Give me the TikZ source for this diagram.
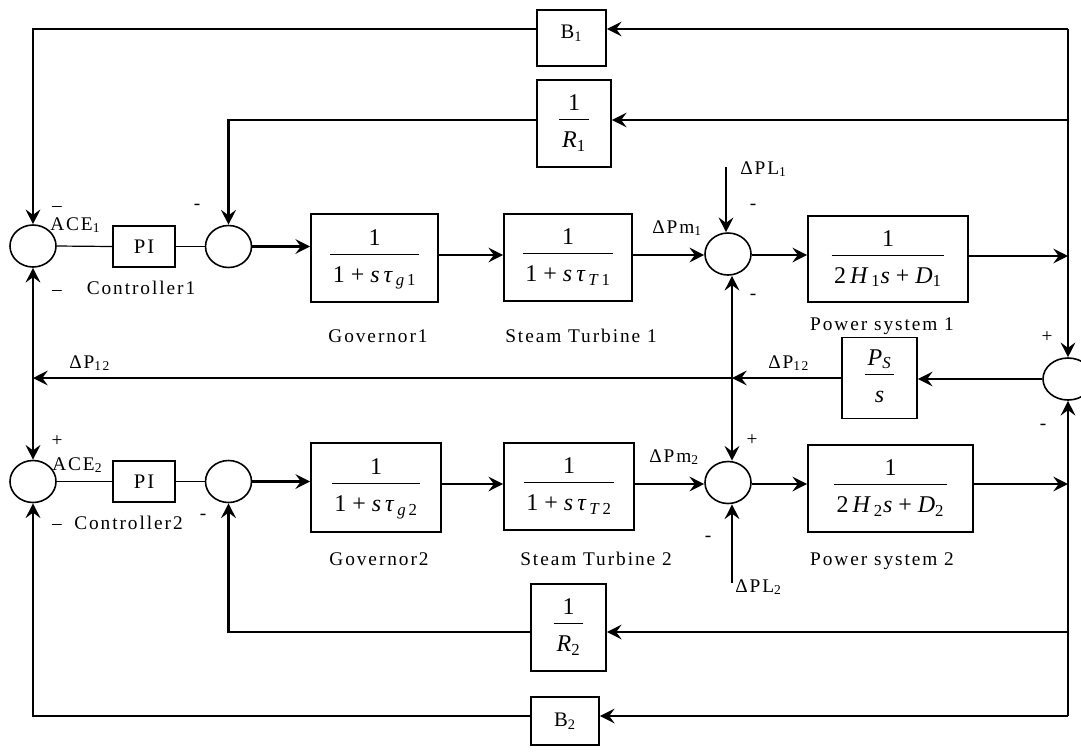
\documentclass[tikz,border=0pt]{standalone}
\usepackage{fontspec}
\setmainfont{Liberation Serif}
\newfontfamily\lblfont{Liberation Serif}[LetterSpace=10]
\usetikzlibrary{arrows.meta,shapes.geometric}
\newcommand\frc[2]{{\fontsize{18}{21}\selectfont\setlength\arrayrulewidth{0.7pt}%
\begin{tabular}{@{\hspace{2pt}}c@{\hspace{2pt}}}\rule[-6.5pt]{0pt}{0pt}#1\\\hline\rule{0pt}{20.5pt}#2\end{tabular}}}
\tikzset{
  >={Stealth[length=11pt,width=11pt,inset=4pt]},
  sig/.style={line width=1.8pt},
  weak/.style={line width=0.9pt},
  blk/.style={draw, line width=1.3pt, rectangle, inner sep=0pt, align=center},
  sumnode/.style={draw, ellipse, line width=1.2pt, inner sep=0pt, minimum width=34.5pt, minimum height=31.5pt},
  lbl/.style={inner sep=0pt, font=\lblfont\fontsize{14.5}{17}\selectfont},
  boxlbl/.style={font=\lblfont\fontsize{15.5}{18}\selectfont},
}
\begin{document}
\begin{tikzpicture}[x=0.75pt,y=-0.75pt]
\useasboundingbox (0,0) rectangle (1081,751);
% ---- summing junctions
\node[sumnode] (S1) at (33,246) {};
\node[sumnode] (S2) at (228.5,246.5) {};
\node[sumnode] (S3) at (728,254) {};
\node[sumnode] (S4) at (728,482.5) {};
\node[sumnode, minimum width=37.5pt] (S5) at (1068,379) {};
\node[sumnode] (S6) at (33,481.5) {};
\node[sumnode] (S7) at (228.5,481.5) {};
% ---- blocks, area 1
\node[blk, boxlbl, minimum width=46.5pt, minimum height=30.75pt] (PI1) at (144,246.5) {PI};
\node[blk, minimum width=95.25pt, minimum height=66pt] (G1) at (374.5,258) {\frc{1}{1 + \textit{s}\,\textit{τ}\textsubscript{\,\textit{g}\,1}}};
\node[blk, minimum width=96pt, minimum height=65.25pt] (T1) at (568,257.5) {\frc{1}{1 + \textit{s}\,\textit{τ}\textsubscript{\,\textit{T}\,1}}};
\node[blk, minimum width=120pt, minimum height=64.5pt] (PS1) at (888,259) {\frc{1}{2\,\textit{H}\textsubscript{\,1}\textit{s} + \textit{D}\textsubscript{1}}};
\node[blk, boxlbl, minimum width=51.75pt, minimum height=42pt, text depth=9.5pt] (B1) at (571.5,38) {B\textsubscript{1}};
\node[blk, minimum width=55.5pt, minimum height=65.25pt] (R1) at (574,123.5) {\frc{1}{\textit{R}\textsubscript{1}}};
\node[blk, minimum width=56.25pt, minimum height=60.75pt] (PSs) at (879.5,378) {\frc{\textit{P}\textsubscript{\textit{S}}}{\textit{s}}};
% ---- blocks, area 2
\node[blk, boxlbl, minimum width=46.5pt, minimum height=30.75pt] (PI2) at (144,481.5) {PI};
\node[blk, minimum width=97.5pt, minimum height=66.75pt] (G2) at (376,487.5) {\frc{1}{1 + \textit{s}\,\textit{τ}\textsubscript{\,\textit{g}\,2}}};
\node[blk, minimum width=97.5pt, minimum height=65.25pt] (T2) at (569,486.5) {\frc{1}{1 + \textit{s}\,\textit{τ}\textsubscript{\,\textit{T}\,2}}};
\node[blk, minimum width=123.75pt, minimum height=65.25pt] (PS2) at (890.5,488.5) {\frc{1}{2\,\textit{H}\textsubscript{\,2}\textit{s} + \textit{D}\textsubscript{2}}};
\node[blk, minimum width=56.25pt, minimum height=65.25pt] (R2) at (568.5,627.5) {\frc{1}{\textit{R}\textsubscript{2}}};
\node[blk, boxlbl, minimum width=51pt, minimum height=36pt] (B2) at (565,721) {B\textsubscript{2}};
% ---- helper points
\coordinate (tl) at (33,29);
\coordinate (tr) at (1068,29);
\coordinate (r1r) at (1068,120);
\coordinate (r1l) at (228.5,120);
\coordinate (pf1) at (1068,256);
\coordinate (pf2) at (1068,484);
\coordinate (r2r) at (1068,632);
\coordinate (r2l) at (228.5,632);
\coordinate (br) at (1068,716);
\coordinate (bl) at (33,716);
\coordinate (J) at (732,378);
\coordinate (lj) at (33,378);
\coordinate (pl1) at (726,167);
\coordinate (pl2) at (732,583);
\coordinate (ya) at (0,255);
\coordinate (yb) at (0,484);
% ---- connectors, top
\draw[sig,->] (tr) -- (tr -| B1.east);
\draw[sig,->] (tr -| B1.west) -- (tl) -- (tl |- S1.north);
\draw[sig,->] (tr) -- (tr |- S5.north);
\draw[sig,->] (r1r) -- (r1r -| R1.east);
\draw[sig,->] (r1r -| R1.west) -- (r1l) -- (r1l |- S2.north);
\draw[weak] (S1.east) -- (PI1.west);
\draw[weak] (PI1.east) -- (S2.west);
\draw[sig,->] (S2.east) -- (S2.east -| G1.west);
\draw[sig,->] (G1.east |- ya) -- (T1.west |- ya);
\draw[sig,->] (T1.east |- ya) -- (S3.west |- ya);
\draw[sig,->] (pl1) -- (pl1 |- S3.north);
\draw[sig,->] (S3.east |- ya) -- (PS1.west |- ya);
\draw[sig,->] (PS1.east |- pf1) -- (pf1);
% ---- tie line
\draw[sig,->] (S5.west) -- (S5.west -| PSs.east);
\draw[sig,->] (PSs.west |- J) -- (J);
\draw[sig,->] (J) -- (lj);
\draw[sig,->] (J) -- (J |- S3.south);
\draw[sig,->] (J) -- (J |- S4.north);
\draw[sig,->] (lj) -- (lj |- S1.south);
\draw[sig,->] (lj) -- (lj |- S6.north);
% ---- connectors, bottom
\draw[sig,->] (br) -- (br |- S5.south);
\draw[sig,->] (r2r) -- (r2r -| R2.east);
\draw[sig,->] (r2r -| R2.west) -- (r2l) -- (r2l |- S7.south);
\draw[sig,->] (br) -- (br -| B2.east);
\draw[sig,->] (br -| B2.west) -- (bl) -- (bl |- S6.south);
\draw[weak] (S6.east) -- (PI2.west);
\draw[weak] (PI2.east) -- (S7.west);
\draw[sig,->] (S7.east) -- (S7.east -| G2.west);
\draw[sig,->] (G2.east |- yb) -- (T2.west |- yb);
\draw[sig,->] (T2.east |- yb) -- (S4.west |- yb);
\draw[sig,->] (pl2) -- (pl2 |- S4.south);
\draw[sig,->] (S4.east |- yb) -- (PS2.west |- yb);
\draw[sig,->] (PS2.east |- pf2) -- (pf2);
% ---- labels, area 1
\node[lbl] (mA1) at (57,209) {–};
\node[lbl, anchor=base west] (ace1) at (50,230) {ACE\textsubscript{1}};
\node[lbl] (mB1) at (57,293) {–};
\node[lbl, anchor=base] (ctl1) at (141,294) {Controller1};
\node[lbl] (m2) at (197,207) {-};
\node[lbl, anchor=base] (gov1) at (378,342) {Governor1};
\node[lbl, anchor=base] (st1) at (581,342) {Steam Turbine 1};
\node[lbl, anchor=base west] (pm1) at (652,233) {ΔPm\textsubscript{1}};
\node[lbl, anchor=base west] (pl1t) at (740,174) {ΔPL\textsubscript{1}};
\node[lbl] (m3a) at (753,207) {-};
\node[lbl] (m3b) at (753,297) {-};
\node[lbl, anchor=base] (ps1t) at (882,330) {Power system 1};
\node[lbl] (p5a) at (1047,337) {+};
\node[lbl, anchor=base west] (dp12r) at (768,368) {ΔP\textsubscript{12}};
\node[lbl, anchor=base west] (dp12l) at (69,368) {ΔP\textsubscript{12}};
% ---- labels, area 2
\node[lbl] (pA2) at (57,441) {+};
\node[lbl, anchor=base west] (ace2) at (52,470) {ACE\textsubscript{2}};
\node[lbl] (mB2) at (57,527) {–};
\node[lbl, anchor=base] (ctl2) at (128.5,529) {Controller2};
\node[lbl] (m7) at (203,517) {-};
\node[lbl, anchor=base] (gov2) at (379,565) {Governor2};
\node[lbl, anchor=base] (st2) at (596,565) {Steam Turbine 2};
\node[lbl, anchor=base west] (pm2) at (649,462) {ΔPm\textsubscript{2}};
\node[lbl] (p4) at (752,440) {+};
\node[lbl] (m4) at (708,539) {-};
\node[lbl, anchor=base west] (pl2t) at (735,592) {ΔPL\textsubscript{2}};
\node[lbl, anchor=base] (ps2t) at (882,565) {Power system 2};
\node[lbl] (m5) at (1043,427) {-};
\end{tikzpicture}
\end{document}
